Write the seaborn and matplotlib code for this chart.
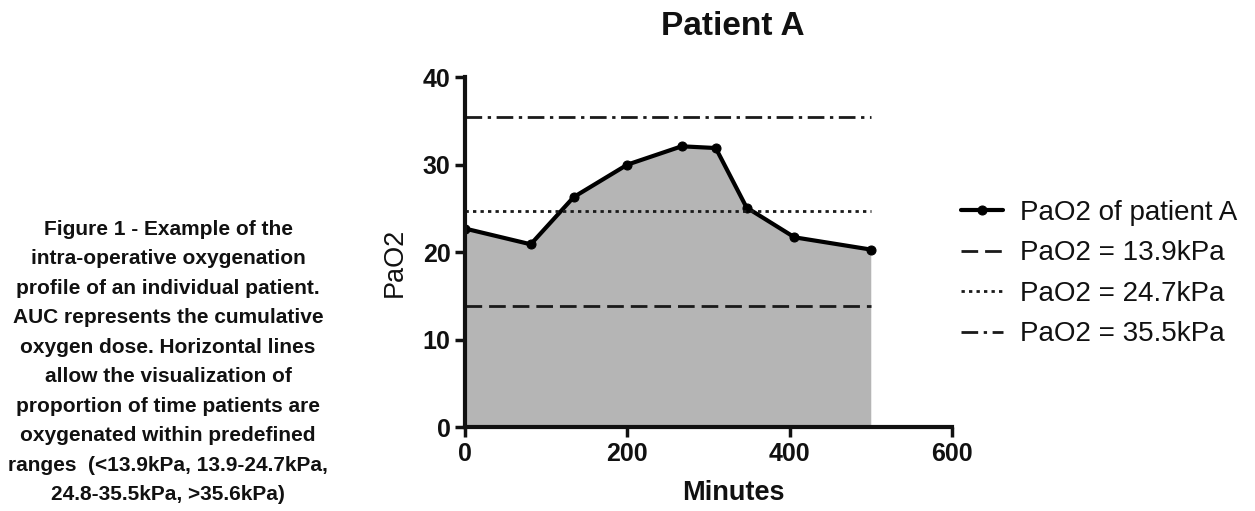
import matplotlib
matplotlib.use("Agg")
import matplotlib.pyplot as plt
import seaborn as sns
import pandas as pd

# PaO2 readings of patient A during the operation
minutes = [0, 81, 134, 200, 267, 309, 347, 406, 500]
pao2 = [22.7, 20.9, 26.3, 30.0, 32.1, 31.9, 25.1, 21.7, 20.3]

# reference thresholds (kPa)
thresholds = [13.9, 24.7, 35.5]
threshold_labels = ["PaO2 = 13.9kPa", "PaO2 = 24.7kPa", "PaO2 = 35.5kPa"]
threshold_styles = [(0, (6, 2.5)), (0, (1.2, 1.5)), (0, (6, 2, 1.2, 2))]

caption = ("Figure 1 - Example of the\n"
           "intra-operative oxygenation\n"
           "profile of an individual patient.\n"
           "AUC represents the cumulative\n"
           "oxygen dose. Horizontal lines\n"
           "allow the visualization of\n"
           "proportion of time patients are\n"
           "oxygenated within predefined\n"
           "ranges  (<13.9kPa, 13.9-24.7kPa,\n"
           "24.8-35.5kPa, >35.6kPa)")

df = pd.DataFrame({"Minutes": minutes, "PaO2": pao2})

sns.set_style("ticks")
plt.rcParams["font.family"] = ["Liberation Sans", "DejaVu Sans"]
ink = "#111111"

fig = plt.figure(figsize=(12.55, 5.11), dpi=100)
ax = fig.add_axes([0.3705, 0.164, 0.388, 0.685])

# area under curve
ax.fill_between(df["Minutes"], df["PaO2"], 0, color="#b5b5b5", linewidth=0)

sns.lineplot(data=df, x="Minutes", y="PaO2", ax=ax, color="black", linewidth=3,
             marker="o", markersize=6.5, markeredgecolor="black",
             label="PaO2 of patient A")

for val, lab, ls in zip(thresholds, threshold_labels, threshold_styles):
    ax.hlines(val, minutes[0], minutes[-1], colors="#1a1a1a", linewidth=2,
              linestyles=[ls], label=lab)

ax.set_xlim(0, 600)
ax.set_ylim(0, 40)
ax.set_xticks([0, 200, 400, 600])
ax.set_yticks([0, 10, 20, 30, 40])
ax.tick_params(labelsize=18, width=2.5, length=7, colors=ink)
for t in ax.get_xticklabels() + ax.get_yticklabels():
    t.set_fontweight("bold")
for s in ["left", "bottom"]:
    ax.spines[s].set_linewidth(3)
    ax.spines[s].set_color(ink)
sns.despine(ax=ax)
ax.set_xlabel("Minutes", fontsize=19.5, fontweight="bold", color=ink)
ax.set_ylabel("PaO2", fontsize=19.5, color=ink)
ax.xaxis.set_label_coords(0.551, -0.151)
ax.yaxis.set_label_coords(-0.118, 0.47)
ax.text(0.551, 1.146, "Patient A", transform=ax.transAxes, ha="center",
        va="center", fontsize=24, fontweight="bold", color=ink)

ax.legend(loc="center left", bbox_to_anchor=(1.0185, 0.4386), frameon=False,
          borderpad=0, borderaxespad=0, fontsize=20, handlelength=1.5,
          labelspacing=0.52, handletextpad=0.62, labelcolor=ink)

fig.text(0.134, 0.292, caption, ha="center", va="center", fontsize=15,
         fontweight="bold", linespacing=1.7, color=ink)

fig.savefig("out.png", dpi=100)
